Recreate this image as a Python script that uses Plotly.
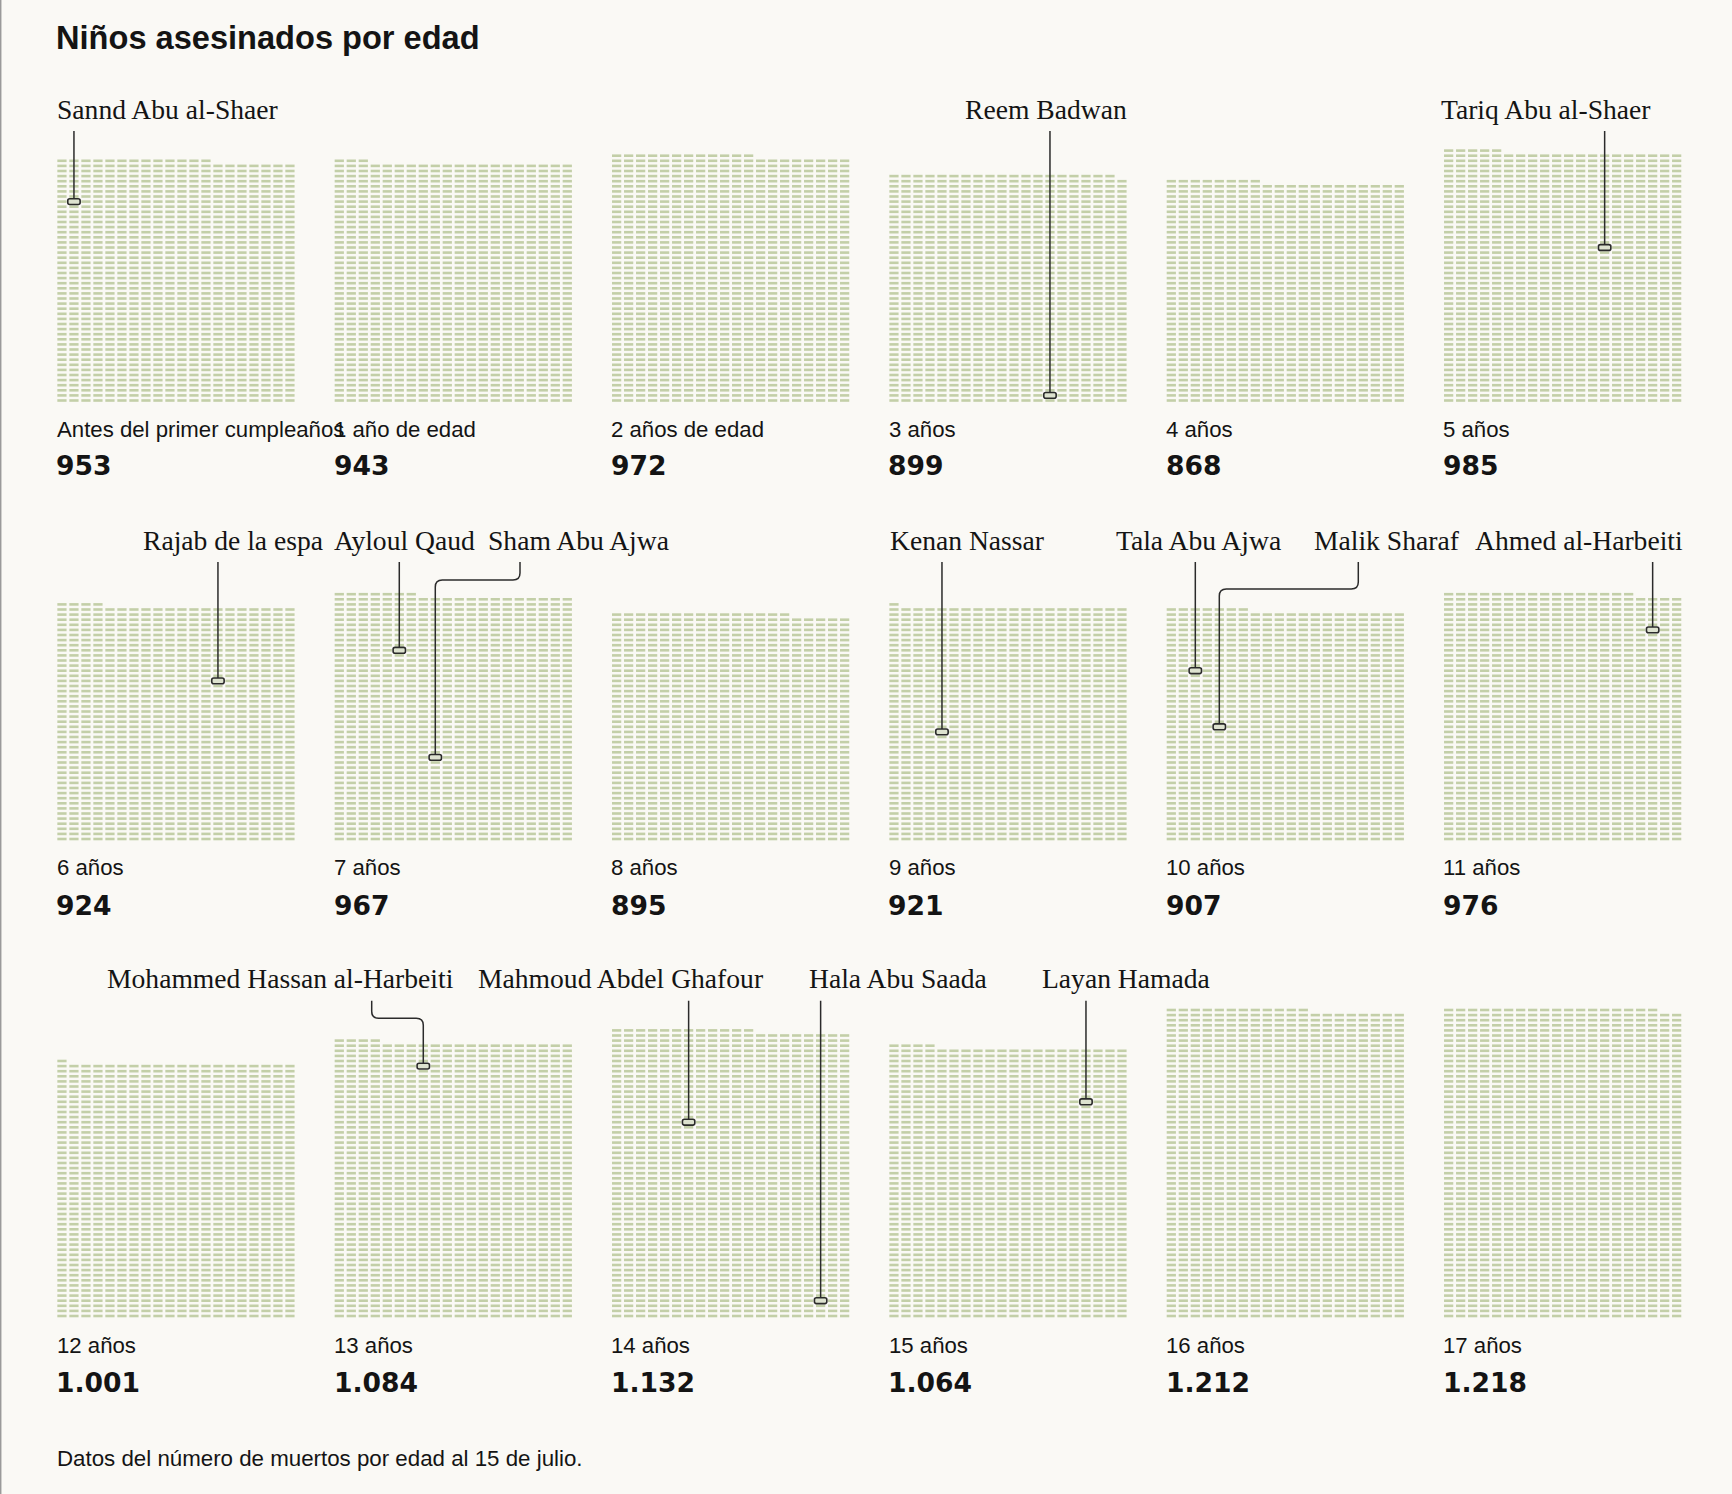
import plotly.graph_objects as go

# ---------------- data ----------------
age_labels = ["Antes del primer cumpleaños", "1 año de edad", "2 años de edad", "3 años", "4 años", "5 años",
              "6 años", "7 años", "8 años", "9 años", "10 años", "11 años",
              "12 años", "13 años", "14 años", "15 años", "16 años", "17 años"]
deaths = [953, 943, 972, 899, 868, 985,
          924, 967, 895, 921, 907, 976,
          1001, 1084, 1132, 1064, 1212, 1218]

# named children: age group index and order of the child inside that group's grid
child_names = ["Sannd Abu al-Shaer", "Reem Badwan", "Tariq Abu al-Shaer",
               "Rajab de la espa", "Ayloul Qaud", "Sham Abu Ajwa", "Kenan Nassar",
               "Tala Abu Ajwa", "Malik Sharaf", "Ahmed al-Harbeiti",
               "Mohammed Hassan al-Harbeiti", "Mahmoud Abdel Ghafour", "Hala Abu Saada", "Layan Hamada"]
child_age = [0, 3, 5, 6, 7, 7, 9, 10, 10, 11, 13, 14, 14, 15]
child_order = [781, 33, 613, 633, 745, 328, 424, 662, 444, 837, 987, 766, 77, 856]

title = "Niños asesinados por edad"
footnote = "Datos del número de muertos por edad al 15 de julio."

# ---------------- layout constants (pixels) ----------------
W, H = 1732, 1494
COLS = 20
PX = 12.0      # column pitch
PY = 5.1       # row pitch
PANEL_LEFT = [57.3 + k * 277.34 for k in range(6)]
ROW_BASE = [400.5, 839.0, 1316.0]      # pixel y of bottom row centre
NAME_Y = [109.0, 540.0, 978.7]
LABEL_Y = [429.0, 867.5, 1345.5]
NUMBER_Y = [465.5, 905.0, 1382.5]
TXT_DX = -2.5   # compensation for annotation padding

# label placement per child: (x pixel, anchor, elbow: None or (start_x_px, elbow_y_px))
label_place = [
    (57.3, "left", None),
    (1046.0, "center", None),
    (1441.0, "left", None),
    (322.5, "right", None),
    (334.7, "left", None),
    (488.0, "left", (520.0, 580.0)),
    (890.0, "left", None),
    (1116.8, "left", None),
    (1314.5, "left", (1358.3, 589.0)),
    (1475.0, "left", None),
    (107.0, "left", (371.7, 1018.3)),
    (478.0, "left", None),
    (809.0, "left", None),
    (1042.0, "left", None),
]

BG = "#faf9f5"
DASH = "#c3cfa8"
INK = "#141414"
LINE = "#2b2b2b"
SANS = "Liberation Sans, Arial, sans-serif"
NUMS = "DejaVu Sans, Liberation Sans, sans-serif"
SERIF = "Liberation Serif, Times New Roman, serif"

fig = go.Figure()
layout = dict(
    width=W, height=H, margin=dict(l=0, r=0, t=0, b=0),
    paper_bgcolor=BG, plot_bgcolor=BG, showlegend=False,
)
annotations = []
shapes = []


def fmt(n):
    return f"{n:,}".replace(",", ".")


def panel_geom(i):
    R, C = divmod(i, 6)
    lc = PANEL_LEFT[C] + 4.65     # centre of the first column
    base = ROW_BASE[R]
    return R, C, lc, base


for i, n in enumerate(deaths):
    R, C, lc, base = panel_geom(i)
    k = i + 1
    top_px = NAME_Y[R] - 20
    bot_px = base + 12
    xa = dict(domain=[(lc - 6) / W, (lc - 6 + COLS * PX) / W], range=[-0.5, COLS - 0.5],
              visible=False, fixedrange=True, anchor=f"y{k}")
    ya = dict(domain=[1 - bot_px / H, 1 - top_px / H],
              range=[(base - bot_px) / PY, (base - top_px) / PY],
              visible=False, fixedrange=True, anchor=f"x{k}")
    layout[f"xaxis{k}" if k > 1 else "xaxis"] = xa
    layout[f"yaxis{k}" if k > 1 else "yaxis"] = ya

    idx = list(range(n))
    fig.add_trace(go.Scatter(
        x=[p % COLS for p in idx], y=[p // COLS for p in idx],
        xaxis=f"x{k}", yaxis=f"y{k}", mode="markers", hoverinfo="skip", cliponaxis=False,
        marker=dict(symbol="line-ew", size=6.6, color=DASH, line=dict(width=2.6, color=DASH)),
    ))

    x0 = PANEL_LEFT[C] + TXT_DX
    annotations.append(dict(text=age_labels[i], xref="paper", yref="paper", x=x0 / W, y=1 - LABEL_Y[R] / H,
                            xanchor="left", yanchor="middle", showarrow=False,
                            font=dict(family=SANS, size=22.2, color=INK)))
    annotations.append(dict(text=fmt(n), xref="paper", yref="paper", x=(x0 - 0.5) / W, y=1 - NUMBER_Y[R] / H,
                            xanchor="left", yanchor="middle", showarrow=False,
                            font=dict(family=NUMS, size=26.6, color=INK, weight="bold")))

box_shapes = []
for j, name in enumerate(child_names):
    i = child_age[j]
    R, C, lc, base = panel_geom(i)
    k = i + 1
    r, c = divmod(child_order[j], COLS)
    lx, anchor, elbow = label_place[j]
    dx = TXT_DX if anchor == "left" else (-TXT_DX if anchor == "right" else 0)
    annotations.append(dict(text=name, xref="paper", yref="paper", x=(lx + dx) / W, y=1 - NAME_Y[R] / H,
                            xanchor=anchor, yanchor="middle", showarrow=False,
                            font=dict(family=SERIF, size=27.6, color=INK)))
    y_top = (base - (NAME_Y[R] + 22)) / PY
    hh = 2.9 / PY
    y_end = r + hh
    if elbow is None:
        path = f"M {c},{y_top} L {c},{y_end}"
    else:
        sx_px, ey_px = elbow
        xs = (sx_px - lc) / PX
        ye = (base - ey_px) / PY
        rx, ry = 7 / PX, 7 / PY
        sgn = -1 if c < xs else 1
        path = (f"M {xs},{y_top} L {xs},{ye + ry} Q {xs},{ye} {xs + sgn * rx},{ye} "
                f"L {c - sgn * rx},{ye} Q {c},{ye} {c},{ye - ry} L {c},{y_end}")
    shapes.append(dict(type="path", path=path, xref=f"x{k}", yref=f"y{k}",
                       line=dict(color=LINE, width=1.5), layer="above"))
    # rounded highlight box
    hw = 6.2 / PX
    cx, cy = 2 / PX, 2 / PY
    x1, x2, y1, y2 = c - hw, c + hw, r - hh, r + hh
    bpath = (f"M {x1 + cx},{y1} L {x2 - cx},{y1} Q {x2},{y1} {x2},{y1 + cy} L {x2},{y2 - cy} "
             f"Q {x2},{y2} {x2 - cx},{y2} L {x1 + cx},{y2} Q {x1},{y2} {x1},{y2 - cy} "
             f"L {x1},{y1 + cy} Q {x1},{y1} {x1 + cx},{y1} Z")
    box_shapes.append(dict(type="path", path=bpath, xref=f"x{k}", yref=f"y{k}",
                           line=dict(color=LINE, width=1.6), fillcolor="#dde2cf", layer="above"))

shapes.extend(box_shapes)
# left border of the page
shapes.append(dict(type="line", xref="paper", yref="paper", x0=0.0004, x1=0.0004, y0=0, y1=1,
                   line=dict(color="#9a9a9a", width=1.5)))

annotations.append(dict(text=title, xref="paper", yref="paper", x=(57.5 + TXT_DX - 0.8) / W, y=1 - 38 / H,
                        xanchor="left", yanchor="middle", showarrow=False,
                        font=dict(family=SANS, size=32.6, color=INK, weight="bold")))
annotations.append(dict(text=footnote, xref="paper", yref="paper", x=(57.3 + TXT_DX) / W, y=1 - 1458 / H,
                        xanchor="left", yanchor="middle", showarrow=False,
                        font=dict(family=SANS, size=22.3, color=INK)))

layout["annotations"] = annotations
layout["shapes"] = shapes
fig.update_layout(**layout)
fig.write_html("out.html", config={"displayModeBar": False},
               post_script="document.body.style.margin='0';document.body.style.overflow='hidden';")
